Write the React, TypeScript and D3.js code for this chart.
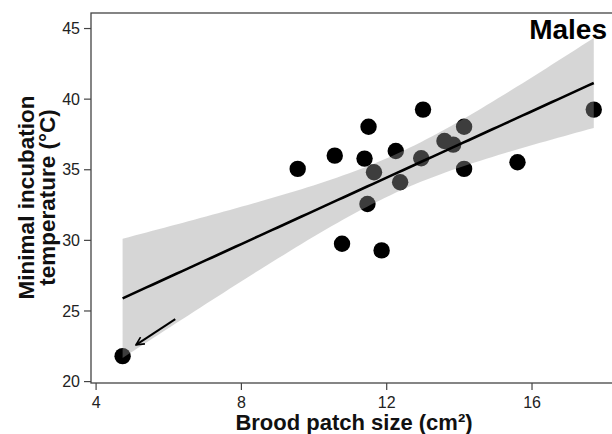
import * as d3 from 'd3'

// brood patch size (cm²) and minimal incubation temperature (°C), one pair per male
const patchSize = [4.73, 9.55, 10.57, 10.77, 11.5, 11.39, 11.65, 11.47, 11.86, 12.25, 12.37, 13.0, 12.95, 13.59, 13.83, 14.13, 14.13, 15.6, 17.7]
const minTemp = [21.8, 35.06, 36.0, 29.76, 38.04, 35.79, 34.82, 32.57, 29.29, 36.33, 34.11, 39.26, 35.82, 37.04, 36.78, 38.04, 35.06, 35.53, 39.26]

const xTicks = [4, 8, 12, 16]
const yTicks = [20, 25, 30, 35, 40, 45]

// arrow pointing at the low outlier: [from, to] in data units
const arrowFrom = [6.18, 24.42]
const arrowTo = [5.1, 22.6]

const T_CRIT = 2.1098 // t(0.975, df = 17)

const W = 612
const H = 434
const FONT = "'Liberation Sans', Arial, sans-serif"

function fitLm(xs: number[], ys: number[]) {
  const n = xs.length
  const mx = d3.mean(xs)!
  const my = d3.mean(ys)!
  let sxx = 0, sxy = 0
  xs.forEach((x, i) => {
    sxx += (x - mx) ** 2
    sxy += (x - mx) * (ys[i] - my)
  })
  const slope = sxy / sxx
  const icpt = my - slope * mx
  let rss = 0
  xs.forEach((x, i) => { rss += (ys[i] - (icpt + slope * x)) ** 2 })
  const s = Math.sqrt(rss / (n - 2))
  return { slope, icpt, s, n, mx, sxx }
}

export default function App() {
  const x = d3.scaleLinear().domain([3.86, 19.0]).range([91, 641])
  const y = d3.scaleLinear().domain([19.9, 46.1]).range([383, 13])

  const fit = fitLm(patchSize, minTemp)
  const [xmin, xmax] = d3.extent(patchSize) as [number, number]
  const grid = d3.range(80).map(i => xmin + (xmax - xmin) * i / 79)
  const band = grid.map(v => {
    const yhat = fit.icpt + fit.slope * v
    const se = fit.s * Math.sqrt(1 / fit.n + (v - fit.mx) ** 2 / fit.sxx)
    return { v, yhat, lo: yhat - T_CRIT * se, hi: yhat + T_CRIT * se }
  })

  const area = d3.area<typeof band[number]>()
    .x(d => x(d.v))
    .y0(d => y(d.lo))
    .y1(d => y(d.hi))
  const line = d3.line<typeof band[number]>()
    .x(d => x(d.v))
    .y(d => y(d.yhat))

  const axisColor = '#444'

  return (
    <svg width={W} height={H} style={{ position: 'fixed', left: 0, top: 0, background: '#fff' }} fontFamily={FONT}>
      <defs>
        <marker id="arrowHead" viewBox="0 0 10 10" refX="9" refY="5" markerWidth="5" markerHeight="5" orient="auto" markerUnits="strokeWidth">
          <path d="M1,1 L9,5 L1,9" fill="none" stroke="#000" strokeWidth="1.6" />
        </marker>
      </defs>

      {/* panel frame */}
      <rect x={91} y={13} width={560} height={370} fill="#fff" stroke={axisColor} strokeWidth={1.3} />

      {/* points under the confidence band */}
      {patchSize.map((v, i) => (
        <circle key={i} cx={x(v)} cy={y(minTemp[i])} r={8.2} fill="#000" />
      ))}

      <path d={area(band)!} fill="#999" fillOpacity={0.4} />
      <path d={line(band)!} fill="none" stroke="#000" strokeWidth={2.6} />

      <line x1={x(arrowFrom[0])} y1={y(arrowFrom[1])} x2={x(arrowTo[0])} y2={y(arrowTo[1])}
        stroke="#000" strokeWidth={2} markerEnd="url(#arrowHead)" />

      {/* y axis */}
      {yTicks.map(t => (
        <g key={t} transform={`translate(0,${y(t)})`}>
          <line x1={84} x2={91} stroke={axisColor} strokeWidth={1.2} />
          <text x={80} dy="0.35em" textAnchor="end" fontSize={16} fill="#222">{t}</text>
        </g>
      ))}

      {/* x axis */}
      {xTicks.map(t => (
        <g key={t} transform={`translate(${x(t)},0)`}>
          <line y1={383} y2={390} stroke={axisColor} strokeWidth={1.2} />
          <text y={408} textAnchor="middle" fontSize={16} fill="#222">{t}</text>
        </g>
      ))}

      <text x={354} y={430} textAnchor="middle" fontSize={22} fontWeight="bold" fill="#111">Brood patch size (cm²)</text>

      <g transform="translate(0,197.5) rotate(-90)" fontSize={22.5} fontWeight="bold" fill="#111" textAnchor="middle">
        <text y={33.5}>Minimal incubation</text>
        <text y={54.5}>temperature (°C)</text>
      </g>

      <text x={607} y={39} textAnchor="end" fontSize={28} fontWeight="bold" fill="#000">Males</text>
    </svg>
  )
}
